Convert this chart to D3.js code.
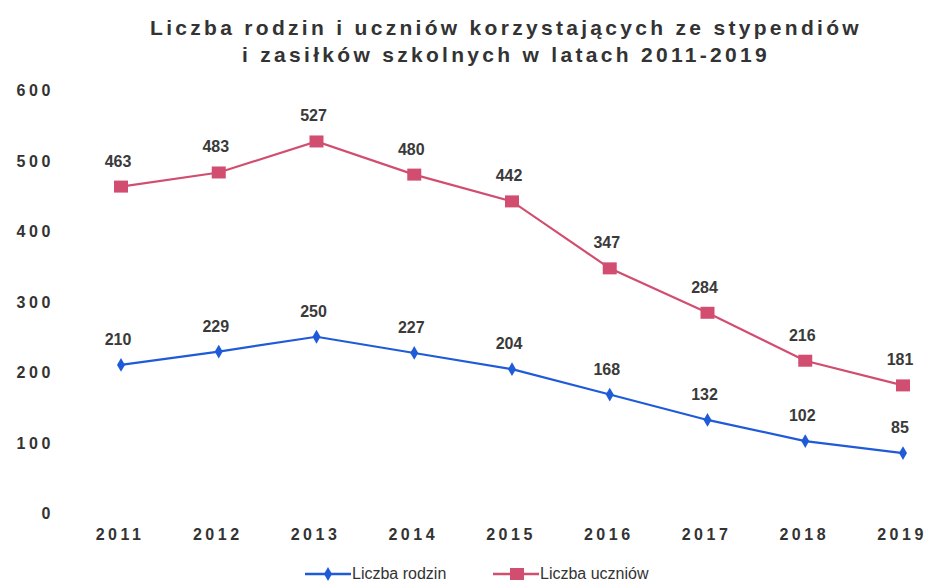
<!DOCTYPE html>
<html><head><meta charset="utf-8">
<script src="https://cdn.jsdelivr.net/npm/d3@7"></script>
<style>body{margin:0;background:#fff;}svg{display:block;font-family:"Liberation Sans",Arial,sans-serif;}</style>
</head><body>
<svg id="c" width="926" height="581"></svg>
<script>
const years = ["2011","2012","2013","2014","2015","2016","2017","2018","2019"];
const rodzin = [210,229,250,227,204,168,132,102,85];
const uczniow = [463,483,527,480,442,347,284,216,181];
const yTicks = [0,100,200,300,400,500,600];
const titleLines = ["Liczba rodzin i uczniów korzystających ze stypendiów","i zasiłków szkolnych w latach 2011-2019"];
const seriesNames = ["Liczba rodzin","Liczba uczniów"];
const colors = ["#1f5bd8","#d24e70"];

const svg = d3.select("#c");
const x = d3.scalePoint().domain(years).range([121,903]);
const y = d3.scaleLinear().domain([0,600]).range([513,90]);

svg.append("g").selectAll("text").data(titleLines).join("text")
  .attr("x",506).attr("y",(d,i)=>35+i*27).attr("text-anchor","middle")
  .attr("font-size",21).attr("font-weight","bold").attr("letter-spacing",3.3).attr("fill","#333")
  .text(d=>d);

const yAxis = svg.append("g").attr("transform","translate(54,0)")
  .call(d3.axisLeft(y).tickValues(yTicks).tickSize(0).tickPadding(0));
yAxis.select(".domain").remove();
yAxis.selectAll("text").attr("font-size",16).attr("font-weight","bold").attr("letter-spacing",3.6)
  .attr("fill","#333").attr("font-family","'Liberation Sans',Arial,sans-serif").attr("dy","0.35em");

const xAxis = svg.append("g").attr("transform","translate(0,529)")
  .call(d3.axisBottom(x).tickSize(0).tickPadding(0));
xAxis.select(".domain").remove();
xAxis.selectAll("text").attr("font-size",16).attr("font-weight","bold").attr("letter-spacing",3.5)
  .attr("fill","#333").attr("font-family","'Liberation Sans',Arial,sans-serif").attr("dy","0.71em").attr("dx",-1.5);

const line = d3.line().x((d,i)=>x(years[i])).y(d=>y(d));
const data = [rodzin, uczniow];
data.forEach((vals,si)=>{
  const g = svg.append("g");
  g.append("path").datum(vals).attr("d",line).attr("fill","none").attr("stroke",colors[si]).attr("stroke-width",2.2);
  if(si===0){
    g.selectAll("path.m").data(vals).join("path").attr("class","m")
      .attr("d",d3.symbol(d3.symbolDiamond,55)())
      .attr("transform",(d,i)=>`translate(${x(years[i])},${y(d)})`).attr("fill",colors[si]);
  } else {
    g.selectAll("rect").data(vals).join("rect")
      .attr("x",(d,i)=>x(years[i])-7).attr("y",d=>y(d)-6).attr("width",14).attr("height",12).attr("fill",colors[si]);
  }
  g.selectAll("text").data(vals).join("text")
    .attr("x",(d,i)=>x(years[i])-3).attr("y",d=>y(d)-20).attr("text-anchor","middle")
    .attr("font-size",16).attr("font-weight","bold").attr("fill","#3a3a3a").text(d=>d);
});

// legend
const leg = svg.append("g");
const legItems = [{x:305,name:seriesNames[0]},{x:493,name:seriesNames[1]}];
legItems.forEach((it,i)=>{
  const gy = 574;
  leg.append("line").attr("x1",it.x).attr("x2",it.x+46).attr("y1",gy).attr("y2",gy).attr("stroke",colors[i]).attr("stroke-width",2.5);
  if(i===0){
    leg.append("path").attr("d",d3.symbol(d3.symbolDiamond,55)()).attr("transform",`translate(${it.x+23},${gy})`).attr("fill",colors[i]);
  } else {
    leg.append("rect").attr("x",it.x+17).attr("y",gy-6).attr("width",14).attr("height",12).attr("fill",colors[i]);
  }
  leg.append("text").attr("x",it.x+47).attr("y",gy+5).attr("font-size",16).attr("fill","#333").text(it.name);
});
</script>
</body></html>
